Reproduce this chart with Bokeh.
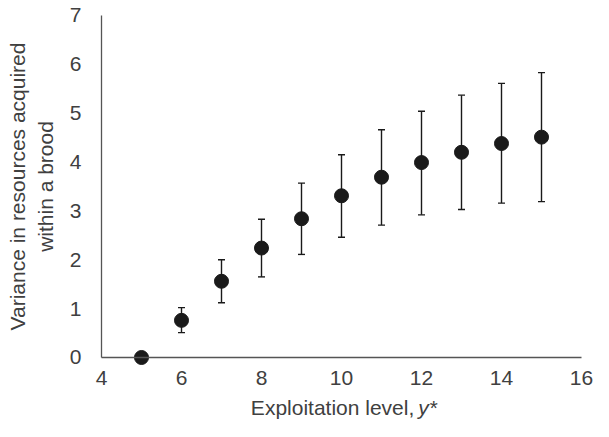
from bokeh.plotting import figure
from bokeh.models import Range1d, FixedTicker, Whisker, ColumnDataSource, Label
from bokeh.embed import file_html
from bokeh.resources import INLINE

exploitation = [5, 6, 7, 8, 9, 10, 11, 12, 13, 14, 15]
variance = [0.0, 0.76, 1.56, 2.24, 2.84, 3.31, 3.69, 3.99, 4.20, 4.38, 4.51]
upper = [0.0, 1.02, 2.00, 2.83, 3.57, 4.15, 4.66, 5.04, 5.37, 5.61, 5.83]
lower = [0.0, 0.51, 1.12, 1.65, 2.11, 2.46, 2.71, 2.92, 3.03, 3.16, 3.19]
x_ticks = [4, 6, 8, 10, 12, 14, 16]
y_ticks = [0, 1, 2, 3, 4, 5, 6, 7]

FONT = "Liberation Sans"
TXT = "#404040"

# Frame spans the whole figure; axes are pinned at x=4 and y=0 so the
# axis title (with italic y*) can be drawn as in-frame labels.
p = figure(width=593, height=421, output_backend="svg", toolbar_location=None,
           x_range=Range1d(1.475, 16.3), y_range=Range1d(-1.31, 7.307),
           min_border_left=0, min_border_right=0, min_border_top=0, min_border_bottom=0)
p.outline_line_color = None
p.grid.visible = False

for ax in (p.xaxis, p.yaxis):
    ax.axis_line_color = "#555555"
    ax.axis_line_width = 1.3
    ax.major_tick_line_color = None
    ax.minor_tick_line_color = None
    ax.major_label_text_font = FONT
    ax.major_label_text_font_size = "21px"
    ax.major_label_text_color = TXT
    ax.axis_label_text_font = FONT
    ax.axis_label_text_font_size = "21px"
    ax.axis_label_text_font_style = "normal"
    ax.axis_label_text_color = TXT

p.xaxis.ticker = FixedTicker(ticks=x_ticks)
p.yaxis.ticker = FixedTicker(ticks=y_ticks)
p.xaxis.fixed_location = 0
p.yaxis.fixed_location = 4
p.xaxis.bounds = (4, 16)
p.yaxis.bounds = (0, 7)
p.xaxis.major_label_standoff = 8
p.yaxis.major_label_standoff = 14
p.yaxis.axis_label = "Variance in resources acquired\nwithin a brood"
p.yaxis.axis_label_standoff = 10

src = ColumnDataSource(dict(x=exploitation, y=variance, upper=upper, lower=lower))
w = Whisker(base="x", upper="upper", lower="lower", source=src,
            line_color="#1a1a1a", line_width=1.4)
w.upper_head.size = 7
w.lower_head.size = 7
w.upper_head.line_color = "#1a1a1a"
w.lower_head.line_color = "#1a1a1a"
w.upper_head.line_width = 1.4
w.lower_head.line_width = 1.4
p.add_layout(w)

p.scatter("x", "y", source=src, size=14, fill_color="#1a1a1a", line_color="#1a1a1a")

lab1 = Label(x=11.82, y=-1.023, text="Exploitation level,",
             text_align="right", text_baseline="middle",
             text_font=FONT, text_font_size="21px", text_color=TXT)
lab2 = Label(x=11.92, y=-1.023, text="y*",
             text_align="left", text_baseline="middle",
             text_font=FONT, text_font_size="21px", text_font_style="italic", text_color=TXT)
p.add_layout(lab1)
p.add_layout(lab2)

open("out.html", "w").write(file_html(p, INLINE))
